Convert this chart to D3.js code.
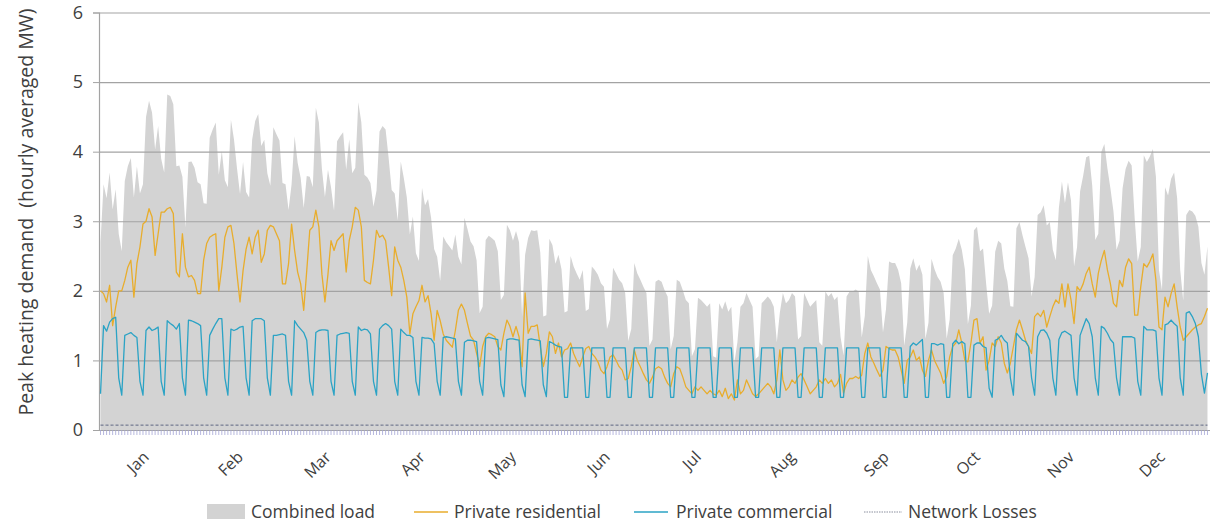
<!DOCTYPE html>
<html><head><meta charset="utf-8">
<script src="https://cdn.jsdelivr.net/npm/d3@7"></script>
<style>
html,body{margin:0;padding:0;background:#fff;}
svg{display:block;font-family:"Open Sans","Noto Sans",sans-serif;}
</style></head>
<body><svg id="c" width="1210" height="529"></svg>
<script>
// ---- data (daily values, 1 Jan .. 31 Dec) ----
const residential = [
2.0,
1.96,1.84,2.08,1.5,1.77,2.0,2.0,
2.15,2.34,2.44,1.91,2.39,2.63,2.96,
3.0,3.18,3.06,2.51,2.82,3.13,3.13,
3.18,3.2,3.11,2.27,2.2,2.82,2.34,
2.2,2.22,2.15,1.96,1.96,2.44,2.68,
2.77,2.8,2.82,2.0,2.34,2.77,2.92,
2.94,2.68,2.24,1.84,2.29,2.6,2.77,
2.53,2.77,2.87,2.41,2.53,2.87,2.94,
2.92,2.82,2.72,2.1,2.1,2.39,2.96,
2.58,2.27,2.1,1.72,2.29,2.87,2.92,
3.16,2.92,2.24,1.84,2.24,2.72,2.58,
2.72,2.77,2.82,2.27,2.72,2.92,3.2,
3.16,2.92,2.15,2.12,2.1,2.44,2.87,
2.77,2.8,2.72,2.34,1.93,2.63,2.44,
2.34,2.15,1.91,1.38,1.67,1.77,1.86,
2.08,1.84,1.93,1.67,1.29,1.72,1.57,
1.38,1.29,1.24,1.19,1.43,1.72,1.81,
1.72,1.53,1.35,1.29,1.1,0.91,1.2,
1.34,1.39,1.37,1.34,1.2,1.15,1.39,
1.58,1.49,1.34,1.49,1.34,0.91,1.97,
1.39,1.49,1.49,1.51,1.2,0.91,1.1,
1.41,1.34,1.1,1.25,1.05,1.15,1.17,
1.25,1.1,1.0,0.91,1.05,1.17,1.2,
1.1,1.05,0.98,0.86,0.81,0.91,1.05,
1.08,1.0,0.91,0.86,0.72,0.74,0.91,
1.15,1.0,0.91,0.81,0.72,0.67,0.76,
0.88,0.91,0.88,0.76,0.67,0.62,0.81,
0.91,0.88,0.76,0.62,0.57,0.52,0.62,
0.57,0.62,0.57,0.52,0.57,0.52,0.5,
0.57,0.48,0.6,0.45,0.52,0.43,0.72,
0.52,0.57,0.72,0.62,0.52,0.48,0.52,
0.57,0.62,0.67,0.62,0.52,0.72,1.15,
0.72,0.57,0.62,0.72,0.67,0.76,0.81,
0.72,0.62,0.52,0.57,0.62,0.72,0.67,
0.74,0.67,0.72,0.62,0.67,0.8,0.53,
0.67,0.74,0.74,0.77,0.74,0.79,1.1,
1.25,1.05,0.96,0.86,0.77,0.86,1.2,
1.17,1.15,1.15,1.05,0.86,0.67,1.0,
1.05,1.15,1.0,1.05,0.86,0.77,1.0,
1.15,1.0,0.91,0.82,0.67,0.77,1.05,
1.2,1.25,1.44,1.25,1.0,0.98,1.25,
1.58,1.6,1.25,1.34,0.86,1.0,1.25,
1.2,1.34,1.25,0.96,0.82,0.96,1.2,
1.44,1.58,1.44,1.29,1.2,1.1,1.63,
1.68,1.63,1.72,1.48,1.63,1.77,1.87,
1.82,2.1,1.77,2.1,1.87,1.53,2.06,
2.0,2.1,2.25,2.34,2.1,1.91,2.25,
2.44,2.58,2.3,2.1,1.82,1.77,2.15,
2.06,2.34,2.46,2.39,1.65,1.65,2.06,
2.39,2.34,2.42,2.53,2.15,1.48,1.44,
1.91,1.77,1.96,2.1,1.77,1.48,1.29,
1.34,1.39,1.44,1.48,1.51,1.53,1.63,
1.75
];

const commercial = [
0.52,
1.5,1.42,1.55,1.6,1.62,0.75,0.5,
1.36,1.38,1.4,1.36,1.33,0.7,0.5,
1.43,1.48,1.43,1.45,1.48,0.7,0.5,
1.57,1.53,1.5,1.45,1.53,0.75,0.5,
1.58,1.57,1.55,1.53,1.5,0.75,0.5,
1.36,1.45,1.53,1.6,1.6,0.75,0.5,
1.45,1.43,1.45,1.48,1.49,0.75,0.5,
1.57,1.6,1.6,1.6,1.57,0.75,0.5,
1.36,1.36,1.37,1.38,1.36,0.7,0.5,
1.57,1.5,1.45,1.4,1.29,0.7,0.5,
1.4,1.43,1.44,1.44,1.43,0.7,0.5,
1.36,1.38,1.39,1.4,1.39,0.7,0.5,
1.48,1.43,1.45,1.44,1.38,0.7,0.5,
1.45,1.5,1.53,1.5,1.45,0.7,0.5,
1.45,1.4,1.36,1.36,1.33,0.7,0.5,
1.33,1.32,1.32,1.31,1.24,0.7,0.5,
1.33,1.34,1.33,1.32,1.31,0.7,0.5,
1.26,1.29,1.29,1.28,1.27,0.7,0.5,
1.32,1.33,1.32,1.31,1.3,0.65,0.48,
1.3,1.31,1.31,1.3,1.29,0.65,0.48,
1.3,1.31,1.3,1.29,1.28,0.65,0.48,
1.27,1.25,1.22,1.2,1.19,0.47,0.47,
1.18,1.18,1.18,1.18,1.18,0.47,0.47,
1.18,1.18,1.18,1.18,1.18,0.47,0.47,
1.18,1.18,1.18,1.18,1.18,0.47,0.47,
1.18,1.18,1.18,1.18,1.18,0.47,0.47,
1.18,1.18,1.18,1.18,1.18,0.47,0.47,
1.18,1.18,1.18,1.18,1.18,0.47,0.47,
1.18,1.18,1.18,1.18,1.18,0.47,0.47,
1.18,1.18,1.18,1.18,1.18,0.47,0.47,
1.18,1.18,1.18,1.18,1.18,0.47,0.47,
1.18,1.18,1.18,1.18,1.18,0.47,0.47,
1.18,1.18,1.18,1.18,1.18,0.47,0.47,
1.18,1.18,1.18,1.18,1.18,0.47,0.47,
1.18,1.18,1.18,1.18,1.18,0.47,0.47,
1.18,1.18,1.18,1.18,1.18,0.47,0.47,
1.18,1.18,1.18,1.18,1.18,0.47,0.47,
1.18,1.18,1.18,1.18,1.18,0.47,0.47,
1.2,1.25,1.22,1.26,1.3,0.47,0.47,
1.24,1.24,1.22,1.24,1.23,0.47,0.47,
1.24,1.29,1.24,1.27,1.24,0.47,0.47,
1.22,1.25,1.25,1.2,1.18,0.6,0.47,
1.29,1.31,1.36,1.29,1.25,0.75,0.5,
1.39,1.34,1.29,1.27,1.2,0.75,0.5,
1.34,1.43,1.44,1.39,1.29,0.75,0.5,
1.3,1.4,1.42,1.39,1.36,0.75,0.5,
1.36,1.48,1.6,1.53,1.34,0.75,0.5,
1.49,1.46,1.39,1.3,1.25,0.75,0.5,
1.34,1.34,1.34,1.34,1.32,0.7,0.5,
1.49,1.44,1.44,1.44,1.42,0.75,0.5,
1.51,1.53,1.58,1.53,1.49,0.75,0.5,
1.68,1.7,1.63,1.53,1.34,0.8,0.53,
0.82
];

const combinedLoad = [
2.7,
3.53,3.33,3.70,3.17,3.46,2.82,2.57,
3.58,3.79,3.91,3.34,3.79,3.40,3.53,
4.50,4.73,4.56,4.03,4.37,3.90,3.70,
4.82,4.80,4.68,3.79,3.80,3.64,2.91,
3.85,3.86,3.77,3.56,3.53,3.26,3.25,
4.20,4.32,4.42,3.67,4.01,3.59,3.49,
4.46,4.18,3.76,3.39,3.85,3.42,3.34,
4.17,4.44,4.54,4.08,4.17,3.69,3.51,
4.35,4.25,4.16,3.55,3.53,3.16,3.53,
4.22,3.84,3.62,3.19,3.65,3.64,3.49,
4.63,4.42,3.75,3.35,3.74,3.49,3.15,
4.15,4.22,4.28,3.74,4.18,3.69,3.77,
4.71,4.42,3.67,3.63,3.55,3.21,3.44,
4.29,4.37,4.32,3.91,3.45,3.40,3.01,
3.86,3.62,3.34,2.81,3.07,2.54,2.43,
3.48,3.23,3.32,3.05,2.60,2.49,2.14,
2.78,2.70,2.64,2.58,2.81,2.49,2.38,
3.05,2.89,2.71,2.64,2.44,1.68,1.77,
2.73,2.79,2.76,2.72,2.57,1.87,1.94,
2.95,2.87,2.72,2.86,2.70,1.63,2.52,
2.76,2.87,2.86,2.87,2.55,1.63,1.65,
2.75,2.66,2.39,2.52,2.31,1.69,1.71,
2.50,2.35,2.25,2.16,2.30,1.71,1.74,
2.35,2.30,2.23,2.11,2.06,1.45,1.59,
2.33,2.25,2.16,2.11,1.97,1.28,1.45,
2.40,2.25,2.16,2.06,1.97,1.21,1.30,
2.13,2.16,2.13,2.01,1.92,1.16,1.35,
2.16,2.13,2.01,1.87,1.82,1.06,1.16,
1.90,1.87,1.82,1.77,1.82,1.06,1.04,
1.82,1.73,1.85,1.70,1.77,0.97,1.26,
1.77,1.82,1.97,1.87,1.77,1.02,1.06,
1.82,1.87,1.92,1.87,1.77,1.26,1.69,
1.97,1.82,1.87,1.97,1.92,1.30,1.35,
1.97,1.87,1.77,1.82,1.87,1.26,1.21,
1.99,1.92,1.97,1.87,1.92,1.34,1.07,
1.92,1.99,1.99,2.02,1.99,1.33,1.64,
2.50,2.30,2.21,2.11,2.02,1.40,1.74,
2.42,2.40,2.40,2.30,2.11,1.21,1.54,
2.32,2.47,2.29,2.38,2.23,1.31,1.54,
2.46,2.31,2.20,2.13,1.97,1.31,1.59,
2.51,2.61,2.75,2.59,2.31,1.52,1.79,
2.87,2.92,2.57,2.61,2.11,1.67,1.79,
2.56,2.72,2.68,2.32,2.14,1.78,1.77,
2.90,2.99,2.80,2.63,2.47,1.92,2.20,
3.09,3.13,3.23,2.94,2.99,2.59,2.44,
3.19,3.57,3.26,3.56,3.30,2.35,2.63,
3.43,3.65,3.92,3.94,3.51,2.73,2.82,
4.00,4.11,3.76,3.47,3.14,2.59,2.72,
3.47,3.75,3.87,3.80,3.04,2.42,2.63,
3.95,3.85,3.93,4.04,3.64,2.30,2.01,
3.49,3.37,3.61,3.70,3.33,2.30,1.86,
3.09,3.16,3.14,3.08,2.92,2.40,2.23,
2.64
];

const networkLosses = [
0.07,
0.07,0.07,0.07,0.07,0.07,0.07,0.07, 0.07,0.07,0.07,0.07,0.07,0.07,0.07,
0.07,0.07,0.07,0.07,0.07,0.07,0.07, 0.07,0.07,0.07,0.07,0.07,0.07,0.07,
0.07,0.07,0.07,0.07,0.07,0.07,0.07, 0.07,0.07,0.07,0.07,0.07,0.07,0.07,
0.07,0.07,0.07,0.07,0.07,0.07,0.07, 0.07,0.07,0.07,0.07,0.07,0.07,0.07,
0.07,0.07,0.07,0.07,0.07,0.07,0.07, 0.07,0.07,0.07,0.07,0.07,0.07,0.07,
0.07,0.07,0.07,0.07,0.07,0.07,0.07, 0.07,0.07,0.07,0.07,0.07,0.07,0.07,
0.07,0.07,0.07,0.07,0.07,0.07,0.07, 0.07,0.07,0.07,0.07,0.07,0.07,0.07,
0.07,0.07,0.07,0.07,0.07,0.07,0.07, 0.07,0.07,0.07,0.07,0.07,0.07,0.07,
0.07,0.07,0.07,0.07,0.07,0.07,0.07, 0.07,0.07,0.07,0.07,0.07,0.07,0.07,
0.07,0.07,0.07,0.07,0.07,0.07,0.07, 0.07,0.07,0.07,0.07,0.07,0.07,0.07,
0.07,0.07,0.07,0.07,0.07,0.07,0.07, 0.07,0.07,0.07,0.07,0.07,0.07,0.07,
0.07,0.07,0.07,0.07,0.07,0.07,0.07, 0.07,0.07,0.07,0.07,0.07,0.07,0.07,
0.07,0.07,0.07,0.07,0.07,0.07,0.07, 0.07,0.07,0.07,0.07,0.07,0.07,0.07,
0.07,0.07,0.07,0.07,0.07,0.07,0.07, 0.07,0.07,0.07,0.07,0.07,0.07,0.07,
0.07,0.07,0.07,0.07,0.07,0.07,0.07, 0.07,0.07,0.07,0.07,0.07,0.07,0.07,
0.07,0.07,0.07,0.07,0.07,0.07,0.07, 0.07,0.07,0.07,0.07,0.07,0.07,0.07,
0.07,0.07,0.07,0.07,0.07,0.07,0.07, 0.07,0.07,0.07,0.07,0.07,0.07,0.07,
0.07,0.07,0.07,0.07,0.07,0.07,0.07, 0.07,0.07,0.07,0.07,0.07,0.07,0.07,
0.07,0.07,0.07,0.07,0.07,0.07,0.07, 0.07,0.07,0.07,0.07,0.07,0.07,0.07,
0.07,0.07,0.07,0.07,0.07,0.07,0.07, 0.07,0.07,0.07,0.07,0.07,0.07,0.07,
0.07,0.07,0.07,0.07,0.07,0.07,0.07, 0.07,0.07,0.07,0.07,0.07,0.07,0.07,
0.07,0.07,0.07,0.07,0.07,0.07,0.07, 0.07,0.07,0.07,0.07,0.07,0.07,0.07,
0.07,0.07,0.07,0.07,0.07,0.07,0.07, 0.07,0.07,0.07,0.07,0.07,0.07,0.07,
0.07,0.07,0.07,0.07,0.07,0.07,0.07, 0.07,0.07,0.07,0.07,0.07,0.07,0.07,
0.07,0.07,0.07,0.07,0.07,0.07,0.07, 0.07,0.07,0.07,0.07,0.07,0.07,0.07,
0.07,0.07,0.07,0.07,0.07,0.07,0.07, 0.07,0.07,0.07,0.07,0.07,0.07,0.07,
0.07
];

const monthLabels = ["Jan","Feb","Mar","Apr","May","Jun","Jul","Aug","Sep","Oct","Nov","Dec"];
const monthStartDay = [0,31,60,91,121,152,182,213,244,274,305,335];
const yTicks = [0,1,2,3,4,5,6];
const legendItems = ["Combined load","Private residential","Private commercial","Network Losses"];

(function draw() {
const svg = d3.select("#c");
const nDays = combinedLoad.length;
const days = d3.range(nDays);
const pLeft = 99, pRight = 1209, pTop = 12.5, pBottom = 430;

const x = d3.scaleBand().domain(days).range([pLeft, pRight]).paddingInner(0).paddingOuter(0);
const cx = i => x(i) + x.bandwidth() / 2;
const y = d3.scaleLinear().domain([0, 6]).range([pBottom, pTop]);

const colors = {
  combined: "#d3d3d3",
  residential: "#e8ad2c",
  commercial: "#2ba3c5",
  losses: "#4e5878"
};
const textColor = "#404040";

svg.append("path")
  .datum(combinedLoad)
  .attr("fill", colors.combined)
  .attr("d", d3.area().x((d, i) => cx(i)).y0(y(0)).y1(d => y(d)));

svg.append("g")
  .attr("transform", `translate(${pLeft},0)`)
  .call(d3.axisLeft(y).tickValues(yTicks).tickSize(-(1210 - pLeft)).tickFormat(""))
  .call(g => g.select(".domain").remove())
  .call(g => g.selectAll("line").attr("stroke", "#a3a3a3").attr("stroke-width", 1.2));

svg.append("g")
  .attr("transform", `translate(${pLeft},0)`)
  .call(d3.axisLeft(y).tickValues(yTicks).tickSize(6).tickPadding(10).tickFormat(d3.format("d")))
  .call(g => g.select(".domain").attr("stroke", "#a3a3a3").attr("stroke-width", 1.2))
  .call(g => g.selectAll("line").attr("stroke", "#a3a3a3"))
  .call(g => g.selectAll("text").attr("fill", textColor).attr("font-size", 18)
    .attr("font-family", '"Open Sans","Noto Sans",sans-serif'));

svg.append("g")
  .attr("transform", `translate(0,${pBottom})`)
  .call(d3.axisBottom(x).tickSize(5).tickSizeOuter(0).tickFormat(""))
  .call(g => g.select(".domain").attr("stroke", "#a3a3a3"))
  .call(g => g.selectAll(".tick line").attr("stroke", "#a4a6d6").attr("stroke-width", 0.8));

svg.append("path")
  .datum(networkLosses)
  .attr("fill", "none")
  .attr("stroke", colors.losses)
  .attr("stroke-width", 0.9)
  .attr("stroke-dasharray", "3,2")
  .attr("d", d3.line().x((d, i) => cx(i)).y(d => y(d)));

svg.append("path")
  .datum(residential)
  .attr("fill", "none")
  .attr("stroke", colors.residential)
  .attr("stroke-width", 1.3)
  .attr("stroke-linejoin", "round")
  .attr("d", d3.line().x((d, i) => cx(i)).y(d => y(d)));

svg.append("path")
  .datum(commercial)
  .attr("fill", "none")
  .attr("stroke", colors.commercial)
  .attr("stroke-width", 1.3)
  .attr("stroke-linejoin", "round")
  .attr("d", d3.line().x((d, i) => cx(i)).y(d => y(d)));

svg.append("g").selectAll("text")
  .data(monthLabels)
  .join("text")
  .attr("transform", (d, i) => `translate(${cx(monthStartDay[i] + 16) + 1},${pBottom + 28}) rotate(-45)`)
  .attr("text-anchor", "end")
  .attr("font-size", 16)
  .attr("fill", textColor)
  .text(d => d);

svg.append("text")
  .attr("transform", `translate(33,212) rotate(-90)`)
  .attr("text-anchor", "middle")
  .attr("font-size", 19.5)
  .attr("fill", textColor)
  .style("white-space", "pre")
  .text("Peak heating demand  (hourly averaged MW)");

const lg = svg.append("g").attr("font-size", 17.5).attr("fill", textColor);
const legendX = [207, 414, 634, 864];
const legendTextX = [251, 454, 676, 908];
const ly = 512;
lg.append("rect").attr("x", legendX[0]).attr("y", ly - 8).attr("width", 38).attr("height", 15).attr("fill", colors.combined);
lg.append("line").attr("x1", legendX[1]).attr("x2", legendX[1] + 34).attr("y1", ly).attr("y2", ly)
  .attr("stroke", colors.residential).attr("stroke-width", 1.3);
lg.append("line").attr("x1", legendX[2]).attr("x2", legendX[2] + 34).attr("y1", ly).attr("y2", ly)
  .attr("stroke", colors.commercial).attr("stroke-width", 1.3);
lg.append("line").attr("x1", legendX[3]).attr("x2", legendX[3] + 38).attr("y1", ly).attr("y2", ly)
  .attr("stroke", "#8a8f9e").attr("stroke-width", 1).attr("stroke-dasharray", "1.5,1");
lg.selectAll("text.lt").data(legendItems).join("text")
  .attr("class", "lt")
  .attr("x", (d, i) => legendTextX[i])
  .attr("y", ly + 6)
  .attr("fill", textColor)
  .text(d => d);
})();
</script>
</body></html>
